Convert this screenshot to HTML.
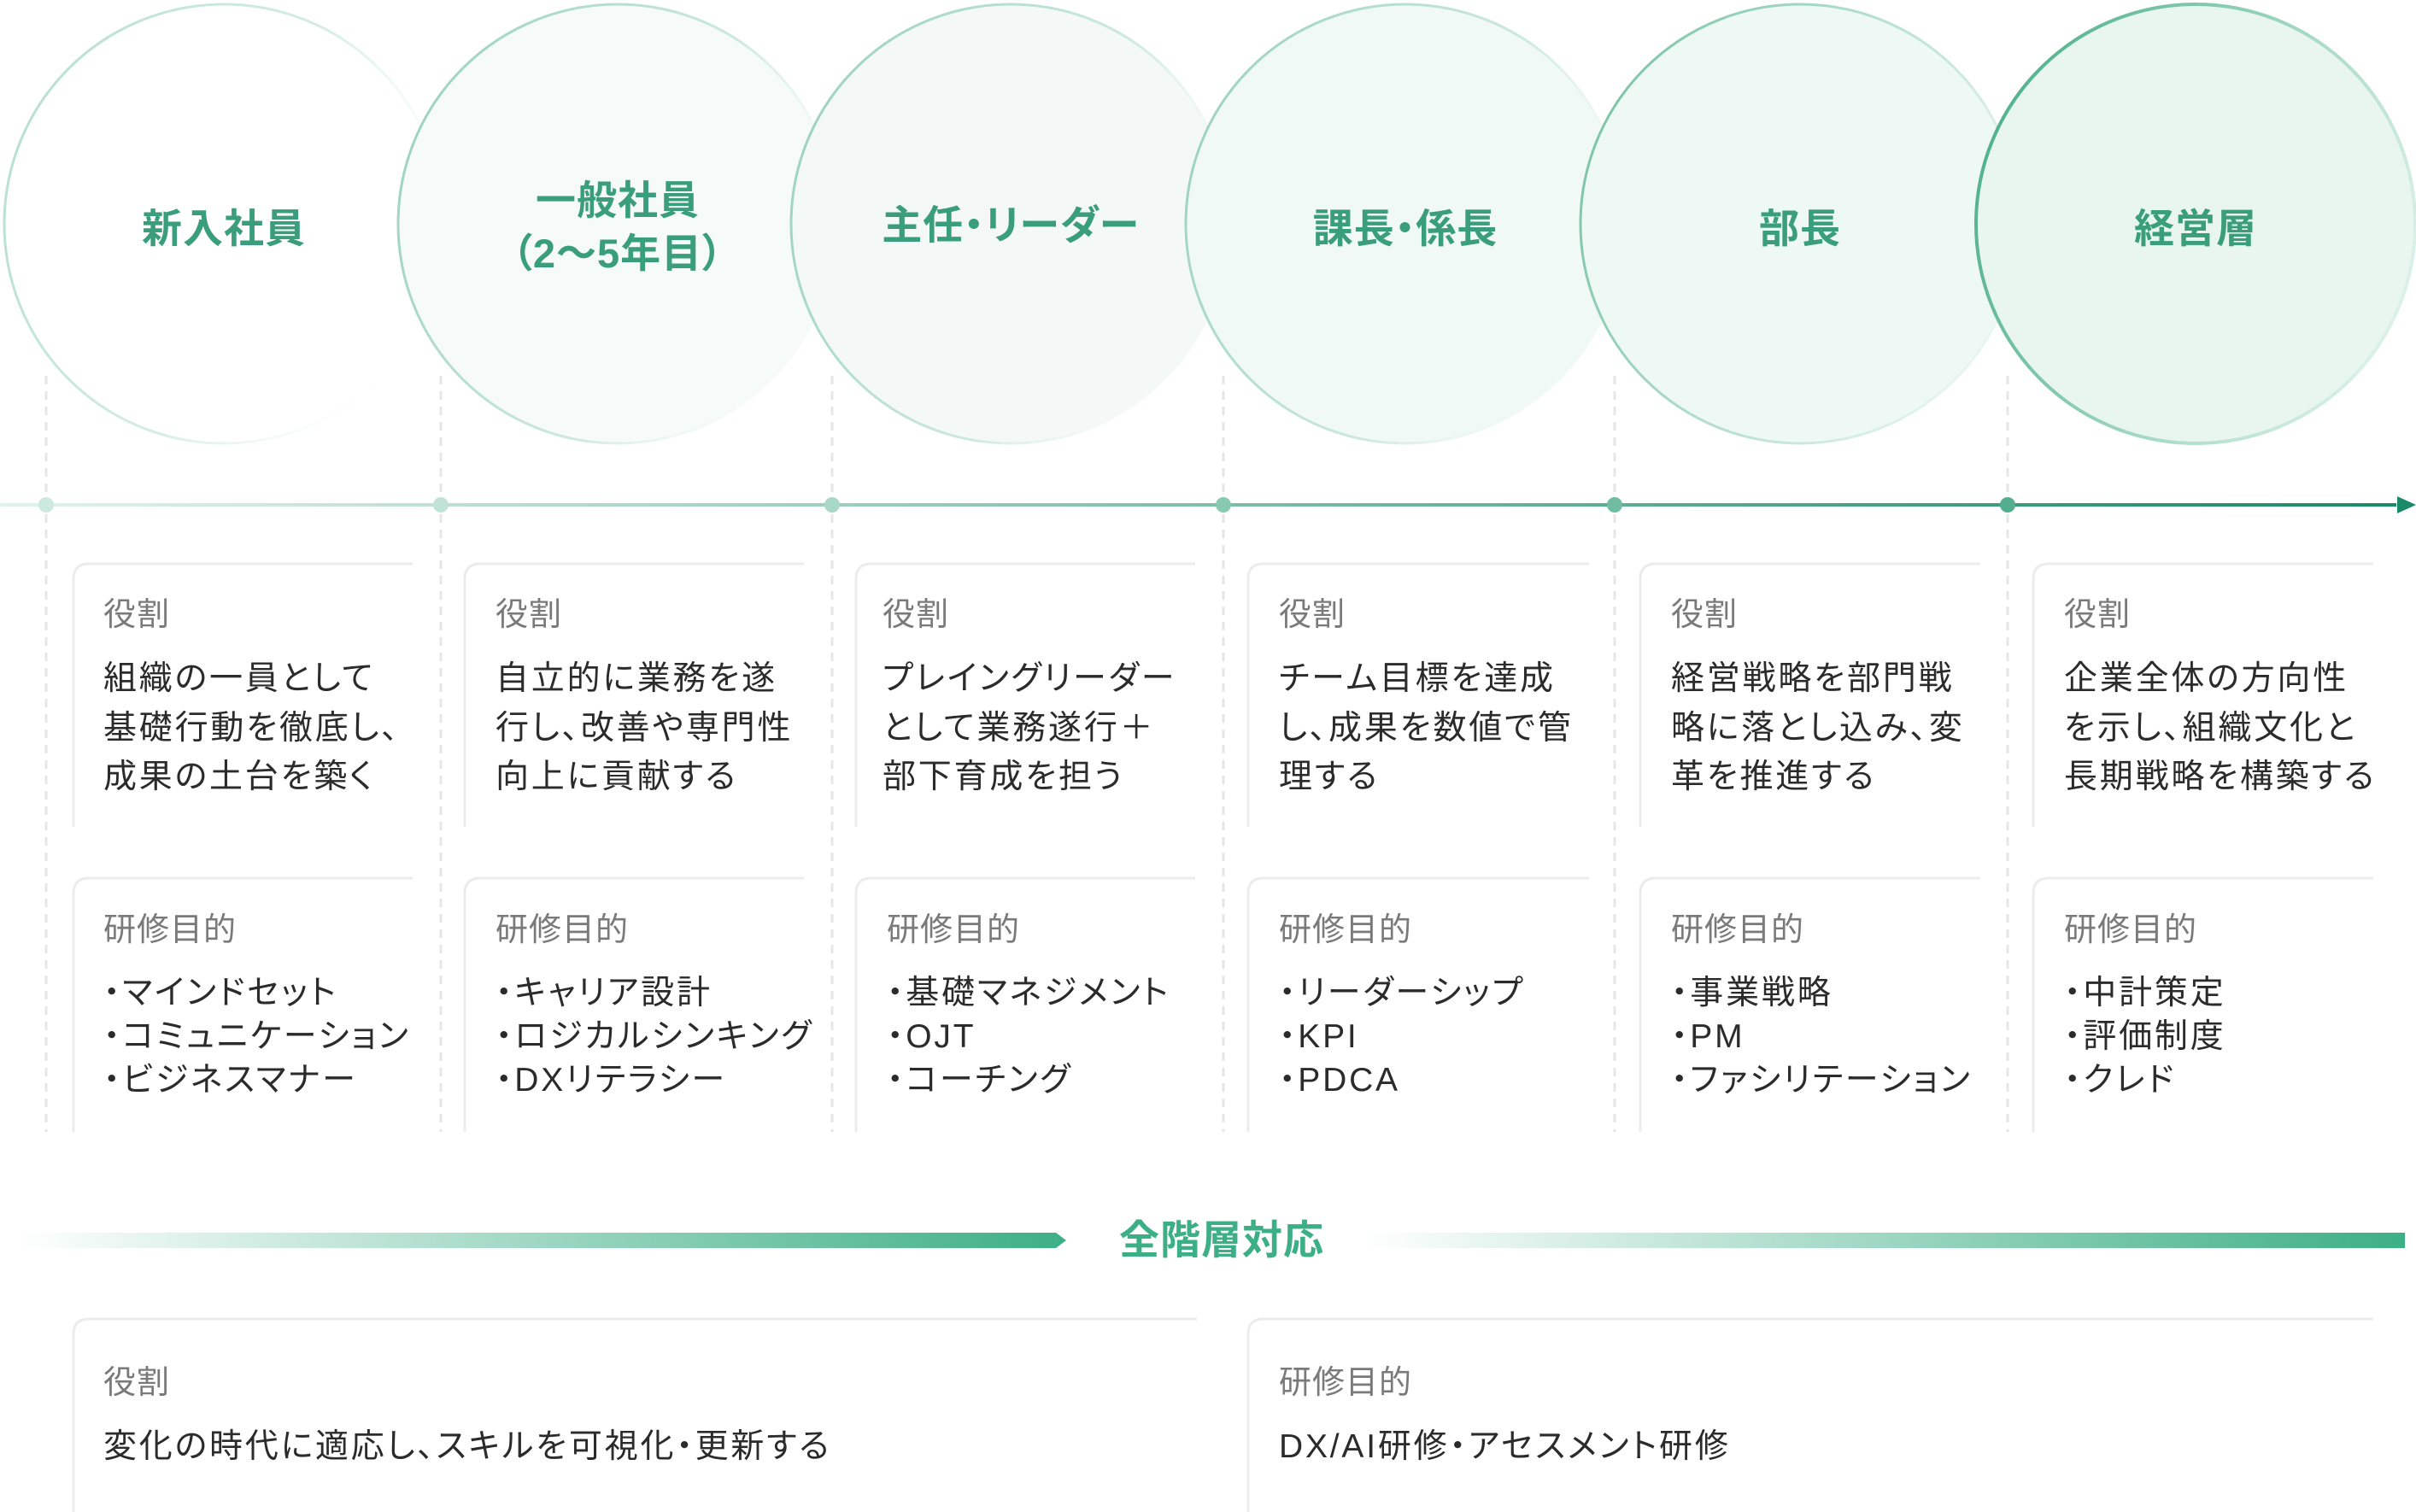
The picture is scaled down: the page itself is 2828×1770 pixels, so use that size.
<!DOCTYPE html>
<html><head><meta charset="utf-8"><style>
html,body{margin:0;padding:0;background:#fff;}
svg{display:block;}
text{font-family:"Liberation Sans","Noto Sans CJK JP",sans-serif;font-feature-settings:"palt" 1;}
.h{fill:#3a9e7c;font-weight:700;font-size:47px;text-anchor:middle;letter-spacing:1px;}
.lab{fill:#7a7a7a;font-size:38px;letter-spacing:1px;}
.b{fill:#2b2b2b;font-size:39px;letter-spacing:2.8px;}
.card{fill:none;stroke:#ececec;stroke-width:3;}
</style></head><body>
<svg width="2828" height="1770" viewBox="0 0 2828 1770" xmlns="http://www.w3.org/2000/svg">
<defs>
<linearGradient id="tl" x1="0" x2="1"><stop offset="0" stop-color="#e2f3ed"/><stop offset="1" stop-color="#1b8a69"/></linearGradient>
<linearGradient id="bar" x1="0" x2="1"><stop offset="0" stop-color="#3daf86" stop-opacity="0"/><stop offset="1" stop-color="#3daf86"/></linearGradient>
<linearGradient id="s1" x1="0" y1="0.3" x2="1" y2="0.7"><stop offset="0" stop-color="#b7e0d1"/><stop offset="0.55" stop-color="#d6eee5"/><stop offset="1" stop-color="#fff" stop-opacity="0"/></linearGradient>
<linearGradient id="s6" x1="0" y1="0.3" x2="1" y2="0.7"><stop offset="0" stop-color="#4fb08b"/><stop offset="0.6" stop-color="#a9dbc8"/><stop offset="1" stop-color="#e0f3ec"/></linearGradient>
<linearGradient id="s3" x1="0" y1="0.3" x2="1" y2="0.7"><stop offset="0" stop-color="#9dd3bf"/><stop offset="0.6" stop-color="#cfeadf"/><stop offset="1" stop-color="#fff" stop-opacity="0"/></linearGradient>
<linearGradient id="s5" x1="0" y1="0.3" x2="1" y2="0.7"><stop offset="0" stop-color="#7cc4a8"/><stop offset="0.6" stop-color="#c2e5d8"/><stop offset="1" stop-color="#eef8f4"/></linearGradient>
</defs>

<g stroke="#e6e6e6" stroke-width="3" stroke-dasharray="10 8">
<line x1="54" y1="440" x2="54" y2="1325"/><line x1="516" y1="440" x2="516" y2="1325"/>
<line x1="974" y1="440" x2="974" y2="1325"/><line x1="1432" y1="440" x2="1432" y2="1325"/>
<line x1="1890" y1="440" x2="1890" y2="1325"/><line x1="2350" y1="440" x2="2350" y2="1325"/>
</g>

<circle cx="262" cy="262" r="257" fill="#ffffff" stroke="url(#s1)" stroke-width="3"/>
<circle cx="723" cy="262" r="257" fill="#f6faf8" stroke="url(#s3)" stroke-width="3"/>
<circle cx="1183" cy="262" r="257" fill="#f4f9f7" stroke="url(#s3)" stroke-width="3"/>
<circle cx="1645" cy="262" r="257" fill="#f0f9f5" stroke="url(#s3)" stroke-width="3"/>
<circle cx="2107" cy="262" r="257" fill="#eef8f4" stroke="url(#s5)" stroke-width="3"/>
<circle cx="2570" cy="262" r="257" fill="#e9f6f0" stroke="url(#s6)" stroke-width="4"/>

<text class="h" x="262" y="284">新入社員</text>
<text class="h" x="723" y="251">一般社員</text>
<text class="h" x="723" y="313">（2〜5年目）</text>
<text class="h" x="1183" y="280">主任・リーダー</text>
<text class="h" x="1645" y="284">課長・係長</text>
<text class="h" x="2107" y="284">部長</text>
<text class="h" x="2570" y="284">経営層</text>

<rect x="0" y="589" width="2805" height="4" fill="url(#tl)"/>
<polygon points="2806,581 2828,591 2806,601" fill="#1b8a69"/>
<g>
<circle cx="54" cy="591" r="9" fill="#cce9df"/>
<circle cx="516" cy="591" r="9" fill="#c1e3d7"/>
<circle cx="974" cy="591" r="9" fill="#a9d8c7"/>
<circle cx="1432" cy="591" r="9" fill="#88c9b2"/>
<circle cx="1890" cy="591" r="9" fill="#6fbca0"/>
<circle cx="2350" cy="591" r="9" fill="#55ad90"/>
</g>

<g>
<path class="card" d="M86 968 V678 Q86 660 104 660 H483"/>
<path class="card" d="M86 1325 V1046 Q86 1028 104 1028 H483"/>
<path class="card" d="M544 968 V678 Q544 660 562 660 H941"/>
<path class="card" d="M544 1325 V1046 Q544 1028 562 1028 H941"/>
<path class="card" d="M1002 968 V678 Q1002 660 1020 660 H1399"/>
<path class="card" d="M1002 1325 V1046 Q1002 1028 1020 1028 H1399"/>
<path class="card" d="M1461 968 V678 Q1461 660 1479 660 H1860"/>
<path class="card" d="M1461 1325 V1046 Q1461 1028 1479 1028 H1860"/>
<path class="card" d="M1920 968 V678 Q1920 660 1938 660 H2318"/>
<path class="card" d="M1920 1325 V1046 Q1920 1028 1938 1028 H2318"/>
<path class="card" d="M2380 968 V678 Q2380 660 2398 660 H2778"/>
<path class="card" d="M2380 1325 V1046 Q2380 1028 2398 1028 H2778"/>
<path class="card" d="M86 1770 V1562 Q86 1544 104 1544 H1401"/>
<path class="card" d="M1461 1770 V1562 Q1461 1544 1479 1544 H2778"/>
</g>

<g>
<text class="lab" x="121" y="732">役割</text>
<text class="b" x="121" y="807">組織の一員として</text>
<text class="b" x="121" y="865">基礎行動を徹底し、</text>
<text class="b" x="121" y="922">成果の土台を築く</text>
<text class="lab" x="121" y="1101">研修目的</text>
<text class="b" x="121" y="1175">・マインドセット</text>
<text class="b" x="121" y="1226">・コミュニケーション</text>
<text class="b" x="121" y="1277">・ビジネスマナー</text>

<text class="lab" x="580" y="732">役割</text>
<text class="b" x="580" y="807">自立的に業務を遂</text>
<text class="b" x="580" y="865">行し、改善や専門性</text>
<text class="b" x="580" y="922">向上に貢献する</text>
<text class="lab" x="580" y="1101">研修目的</text>
<text class="b" x="580" y="1175">・キャリア設計</text>
<text class="b" x="580" y="1226">・ロジカルシンキング</text>
<text class="b" x="580" y="1277">・DXリテラシー</text>

<text class="lab" x="1033" y="732">役割</text>
<text class="b" x="1033" y="807">プレイングリーダー</text>
<text class="b" x="1033" y="865">として業務遂行＋</text>
<text class="b" x="1033" y="922">部下育成を担う</text>
<text class="lab" x="1038" y="1101">研修目的</text>
<text class="b" x="1038" y="1175">・基礎マネジメント</text>
<text class="b" x="1038" y="1226">・OJT</text>
<text class="b" x="1038" y="1277">・コーチング</text>

<text class="lab" x="1497" y="732">役割</text>
<text class="b" x="1497" y="807">チーム目標を達成</text>
<text class="b" x="1497" y="865">し、成果を数値で管</text>
<text class="b" x="1497" y="922">理する</text>
<text class="lab" x="1497" y="1101">研修目的</text>
<text class="b" x="1497" y="1175">・リーダーシップ</text>
<text class="b" x="1497" y="1226">・KPI</text>
<text class="b" x="1497" y="1277">・PDCA</text>

<text class="lab" x="1956" y="732">役割</text>
<text class="b" x="1956" y="807">経営戦略を部門戦</text>
<text class="b" x="1956" y="865">略に落とし込み、変</text>
<text class="b" x="1956" y="922">革を推進する</text>
<text class="lab" x="1956" y="1101">研修目的</text>
<text class="b" x="1956" y="1175">・事業戦略</text>
<text class="b" x="1956" y="1226">・PM</text>
<text class="b" x="1956" y="1277">・ファシリテーション</text>

<text class="lab" x="2416" y="732">役割</text>
<text class="b" x="2416" y="807">企業全体の方向性</text>
<text class="b" x="2416" y="865">を示し、組織文化と</text>
<text class="b" x="2416" y="922">長期戦略を構築する</text>
<text class="lab" x="2416" y="1101">研修目的</text>
<text class="b" x="2416" y="1175">・中計策定</text>
<text class="b" x="2416" y="1226">・評価制度</text>
<text class="b" x="2416" y="1277">・クレド</text>
</g>

<polygon points="18,1443 1236,1443 1248,1452 1236,1461 18,1461" fill="url(#bar)"/>
<rect x="1594" y="1443" width="1221" height="18" fill="url(#bar)"/>
<text x="1430" y="1468" style="fill:#3daf86;font-weight:700;font-size:47px;text-anchor:middle;letter-spacing:1px;">全階層対応</text>

<text class="lab" x="121" y="1631">役割</text>
<text class="b" x="121" y="1706">変化の時代に適応し、スキルを可視化・更新する</text>
<text class="lab" x="1497" y="1631">研修目的</text>
<text class="b" x="1497" y="1706">DX/AI研修・アセスメント研修</text>
</svg>
</body></html>
